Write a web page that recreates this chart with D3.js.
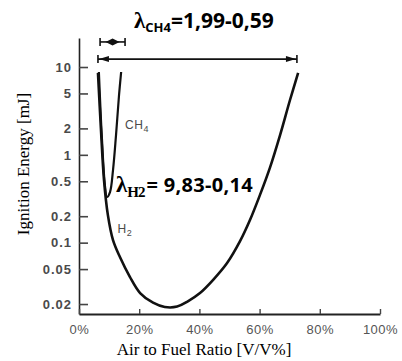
<!DOCTYPE html>
<html>
<head>
<meta charset="utf-8">
<script src="https://cdn.jsdelivr.net/npm/d3@7"></script>
<style>
  body { margin: 0; background: #fff; }
  svg { display: block; }
</style>
</head>
<body>
<div id="chart"></div>
<script>
// curve points: air-fuel ratio (%) vs ignition energy (mJ)
var h2Ratio  = [6.3, 7.3, 8.3, 9.6, 11.3, 13.6, 16.9, 20.3, 24.6, 28.5, 32.6, 35.9, 40.2, 44.5, 49.2, 53.5, 56.8, 60.1, 63.5, 66.8, 70.1, 72.8];
var h2Energy = [8.55, 1.92, 0.52, 0.206, 0.107, 0.0686, 0.0408, 0.0267, 0.0207, 0.0185, 0.0187, 0.0212, 0.0267, 0.0375, 0.0586, 0.104, 0.181, 0.348, 0.726, 1.68, 4.21, 8.55];

var ch4Ratio  = [6.6, 7.3, 8.0, 8.6, 9.3, 10.3, 11.3, 12.3, 13.3, 14.0];
var ch4Energy = [8.77, 2.49, 0.873, 0.453, 0.331, 0.377, 0.671, 1.68, 4.8, 8.77];

// flammability range arrows (ratio %) and the level they are drawn at (mJ)
var ch4Range = [7.0, 15.3], ch4RangeLevel = 19.3;
var h2Range = [6.3, 72.4], h2RangeLevel = 12.3;

var yTicks = [10, 5, 2, 1, 0.5, 0.2, 0.1, 0.05, 0.02];
var yTickLabels = ["10", "5", "2", "1", "0.5", "0.2", "0.1", "0.05", "0.02"];
var xTicks = [0, 20, 40, 60, 80, 100];

var width = 402, height = 361;

var svg = d3.select("#chart").append("svg")
  .attr("width", width)
  .attr("height", height)
  .style("font-family", "'Liberation Sans', Arial, sans-serif");

var x = d3.scaleLinear().domain([0, 100]).range([79, 380]);
var y = d3.scaleLog().domain([0.0154, 21.4]).range([314, 38]);

// y axis, ticks pointing inward
var yAxis = svg.append("g")
  .attr("transform", "translate(" + x(0) + ",0)")
  .call(d3.axisLeft(y).tickValues(yTicks)
    .tickFormat(function (d, i) { return yTickLabels[i]; })
    .tickSizeInner(-9).tickSizeOuter(0).tickPadding(7));
yAxis.select(".domain").attr("stroke", "#222").attr("stroke-width", 1.6);
yAxis.selectAll(".tick line").attr("stroke", "#444").attr("stroke-width", 1.6);
yAxis.selectAll("text")
  .attr("fill", "#4a4a4a")
  .style("font-size", "13px")
  .style("font-weight", "bold")
  .style("letter-spacing", "1px");

// x axis
var xAxis = svg.append("g")
  .attr("transform", "translate(0," + y.range()[0] + ")")
  .call(d3.axisBottom(x).tickValues(xTicks)
    .tickFormat(function (d) { return d + "%"; })
    .tickSizeInner(-5).tickSizeOuter(0).tickPadding(11));
xAxis.select(".domain").attr("stroke", "#222").attr("stroke-width", 2);
xAxis.selectAll(".tick line").attr("stroke", "#444").attr("stroke-width", 1.4);
xAxis.selectAll("text")
  .attr("fill", "#555")
  .style("font-size", "13px")
  .style("letter-spacing", "0.5px");

// the two curves
var line = d3.line()
  .x(function (d) { return x(d[0]); })
  .y(function (d) { return y(d[1]); })
  .curve(d3.curveCatmullRom.alpha(0.5));

svg.append("path")
  .datum(d3.zip(h2Ratio, h2Energy))
  .attr("d", line)
  .attr("fill", "none")
  .attr("stroke", "#111")
  .attr("stroke-width", 2.6);

svg.append("path")
  .datum(d3.zip(ch4Ratio, ch4Energy))
  .attr("d", line)
  .attr("fill", "none")
  .attr("stroke", "#111")
  .attr("stroke-width", 2.2);

// curve labels
var ch4Label = svg.append("text")
  .attr("x", x(15.3)).attr("y", y(1.95))
  .attr("fill", "#4a4a4a")
  .style("font-size", "12px")
  .style("letter-spacing", "0.5px");
ch4Label.append("tspan").text("CH");
ch4Label.append("tspan").attr("dy", 3).style("font-size", "9px").text("4");

var h2Label = svg.append("text")
  .attr("x", x(12.8)).attr("y", y(0.129))
  .attr("fill", "#4a4a4a")
  .style("font-size", "12px")
  .style("letter-spacing", "0.5px");
h2Label.append("tspan").text("H");
h2Label.append("tspan").attr("dy", 3).style("font-size", "9px").text("2");

// range arrows
function bar(px, py) {
  svg.append("line")
    .attr("x1", px).attr("x2", px)
    .attr("y1", py - 4).attr("y2", py + 4)
    .attr("stroke", "#111").attr("stroke-width", 1.6);
}

var sy = y(ch4RangeLevel);
svg.append("line")
  .attr("x1", x(ch4Range[0])).attr("x2", x(ch4Range[1]))
  .attr("y1", sy).attr("y2", sy)
  .attr("stroke", "#111").attr("stroke-width", 1.6);
bar(x(ch4Range[0]), sy);
bar(x(ch4Range[1]), sy);
var cx = (x(ch4Range[0]) + x(ch4Range[1])) / 2;
svg.append("path")
  .attr("d", "M" + (cx - 7) + "," + sy + "L" + cx + "," + (sy - 3.5) + "L" + (cx + 7) + "," + sy + "L" + cx + "," + (sy + 3.5) + "Z")
  .attr("fill", "#111");

var ly = y(h2RangeLevel);
var lx0 = x(h2Range[0]), lx1 = x(h2Range[1]);
svg.append("line")
  .attr("x1", lx0).attr("x2", lx1)
  .attr("y1", ly).attr("y2", ly)
  .attr("stroke", "#111").attr("stroke-width", 1.6);
bar(lx0, ly);
bar(lx1, ly);
svg.append("path")
  .attr("d", "M" + (lx0 + 1) + "," + ly + "L" + (lx0 + 11) + "," + (ly - 3) + "L" + (lx0 + 11) + "," + (ly + 3) + "Z")
  .attr("fill", "#111");
svg.append("path")
  .attr("d", "M" + (lx1 - 1) + "," + ly + "L" + (lx1 - 11) + "," + (ly - 3) + "L" + (lx1 - 11) + "," + (ly + 3) + "Z")
  .attr("fill", "#111");

// lambda annotations
var a1 = svg.append("text")
  .attr("x", 134).attr("y", 28)
  .attr("fill", "#000")
  .style("font-family", "'Open Sans', sans-serif")
  .style("font-weight", "bold")
  .style("font-size", "21px");
a1.append("tspan").style("font-family", "'Liberation Serif', serif").style("font-size", "23px").text("λ");
a1.append("tspan").attr("dy", 4).style("font-size", "13px").text("CH4");
a1.append("tspan").attr("dy", -4).text("=1,99-0,59");

var a2 = svg.append("text")
  .attr("x", 116).attr("y", 192)
  .attr("fill", "#000")
  .style("font-family", "'Open Sans', sans-serif")
  .style("font-weight", "bold")
  .style("font-size", "20px");
a2.append("tspan").style("font-family", "'Liberation Serif', serif").style("font-size", "23px").text("λ");
a2.append("tspan").attr("dy", 5).style("font-family", "'Liberation Serif', serif").style("font-size", "15px").style("letter-spacing", "-1px").text("H2");
a2.append("tspan").attr("dy", -5).attr("dx", 2).style("letter-spacing", "0.3px").text("= 9,83-0,14");

// axis titles
svg.append("text")
  .attr("x", 204).attr("y", 355)
  .attr("text-anchor", "middle")
  .style("font-family", "'Liberation Serif', 'Times New Roman', serif")
  .style("font-size", "17px")
  .text("Air to Fuel Ratio [V/V%]");

svg.append("text")
  .attr("transform", "translate(29,164) rotate(-90)")
  .attr("text-anchor", "middle")
  .style("font-family", "'Liberation Serif', 'Times New Roman', serif")
  .style("font-size", "17px")
  .text("Ignition Energy [mJ]");
</script>
</body>
</html>
